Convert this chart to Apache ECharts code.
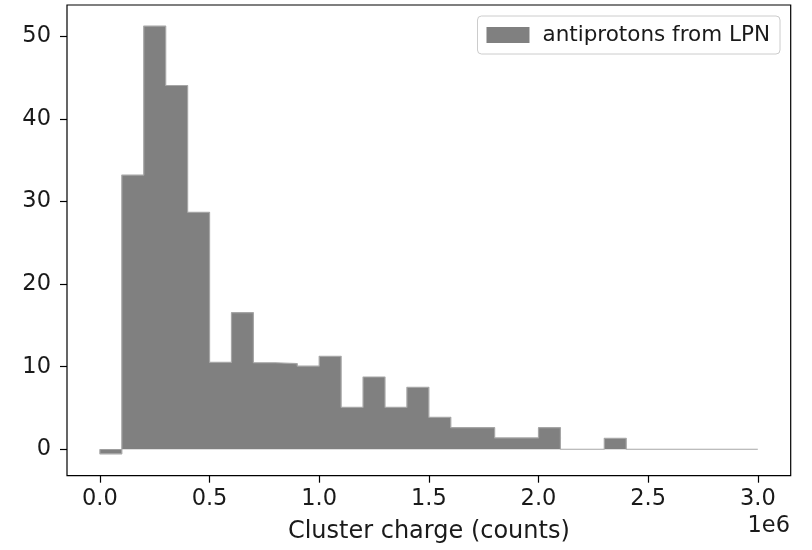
<!DOCTYPE html>
<html>
<head>
<meta charset="utf-8">
<script src="https://cdn.jsdelivr.net/npm/echarts@6/dist/echarts.min.js"></script>
<style>
html,body{margin:0;padding:0;background:#fff;}
#chart{width:812px;height:550px;}
</style>
</head>
<body>
<div id="chart"></div>
<script>
// Bin edges (units of 1e6 counts)
var binEdges = [0.0,0.1,0.2,0.3,0.4,0.5,0.6,0.7,0.8,0.9,1.0,1.1,1.2,1.3,1.4,1.5,1.6,1.7,1.8,1.9,2.0,2.1,2.2,2.3,2.4,2.5,2.6,2.7,2.8,2.9,3.0];
// Histogram values per bin
var counts = [-0.55,33.2,51.25,44.05,28.7,10.53,16.54,10.48,10.36,10.08,11.26,5.08,8.75,5.08,7.5,3.87,2.62,2.62,1.37,1.37,2.62,0,0,1.33,0,0,0,0,0,0];
var xTicks = [0.0,0.5,1.0,1.5,2.0,2.5,3.0];
var yTicks = [0,10,20,30,40,50];
var seriesName = 'antiprotons from LPN';
var xTitle = 'Cluster charge (counts)';
var offsetText = '1e6';

var stepData = [[binEdges[0], 0]];
for (var i = 0; i < counts.length; i++) stepData.push([binEdges[i], counts[i]]);
stepData.push([binEdges[binEdges.length - 1], counts[counts.length - 1]]);

var font = 'DejaVu Sans';
var chart = echarts.init(document.getElementById('chart'), null, {renderer: 'canvas'});
chart.setOption({
  animation: false,
  backgroundColor: '#fff',
  grid: {left: 67, top: 5, right: 21.3, bottom: 74.3, show: true, borderColor: '#000', borderWidth: 1.2, backgroundColor: 'transparent'},
  legend: {
    data: [seriesName], right: 32, top: 16, icon: 'rect', itemWidth: 43, itemHeight: 16,
    padding: [8, 10, 8, 9], borderColor: '#cccccc', borderWidth: 1, borderRadius: 4,
    backgroundColor: 'rgba(255,255,255,0.8)',
    itemStyle: {color: '#808080', borderWidth: 0},
    textStyle: {fontFamily: font, fontSize: 21.5, color: '#1a1a1a', padding: [0, 0, 0, 8]}
  },
  xAxis: {
    type: 'value', min: -0.15, max: 3.15,
    name: xTitle, nameLocation: 'middle', nameGap: 44,
    nameTextStyle: {fontFamily: font, fontSize: 24, color: '#1a1a1a'},
    axisLine: {show: false, onZero: false},
    axisTick: {show: true, length: 7, lineStyle: {color: '#000', width: 1.2}, customValues: xTicks},
    axisLabel: {fontFamily: font, fontSize: 22.5, color: '#1a1a1a', margin: 12, customValues: xTicks,
      formatter: function (v) { return v.toFixed(1); }},
    splitLine: {show: false}
  },
  yAxis: {
    type: 'value', min: -3.2, max: 53.8,
    axisLine: {show: false, onZero: false},
    axisTick: {show: true, length: 7, lineStyle: {color: '#000', width: 1.2}, customValues: yTicks},
    axisLabel: {fontFamily: font, fontSize: 22.5, color: '#1a1a1a', margin: 16, customValues: yTicks},
    splitLine: {show: false}
  },
  graphic: [{
    type: 'text', right: 22, top: 515,
    style: {text: offsetText, fontFamily: font, fontSize: 22.5, fill: '#1a1a1a'}
  }],
  series: [{
    name: seriesName, type: 'line', step: 'end', data: stepData,
    symbol: 'none', showSymbol: false,
    itemStyle: {color: '#808080'},
    lineStyle: {color: '#a6a6a6', width: 1.2},
    areaStyle: {color: '#808080', opacity: 1, origin: 0}
  }]
});
</script>
</body>
</html>
